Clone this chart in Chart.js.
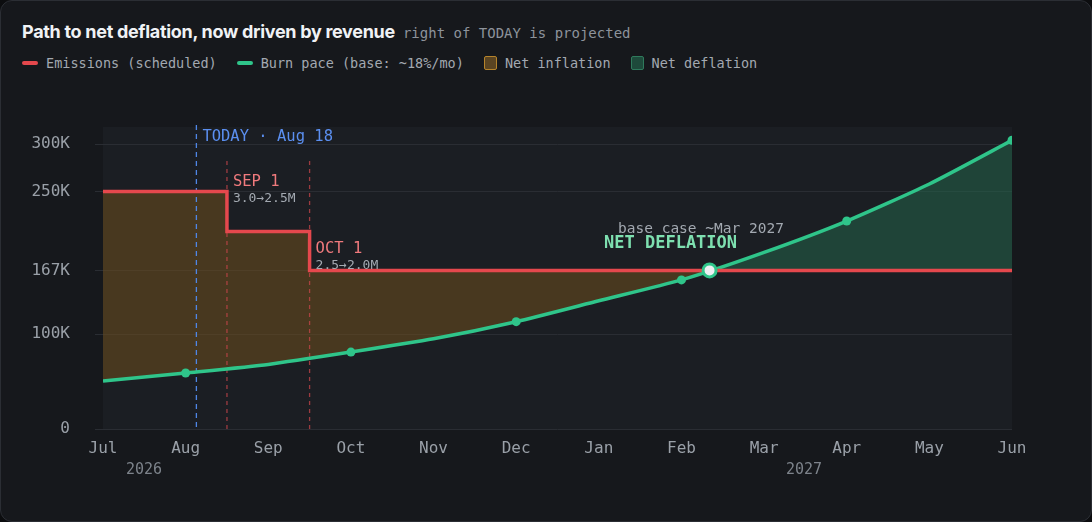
<!DOCTYPE html>
<html>
<head>
<meta charset="utf-8">
<script src="https://cdn.jsdelivr.net/npm/chart.js@4"></script>
<style>
  body { margin:0; background:#0c0d0f; width:1092px; height:522px; overflow:hidden; }
  #card { position:absolute; left:0; top:0; width:1090px; height:520px; background:#16181c;
          border:1px solid #2b2e34; border-radius:12px; }
  #title { position:absolute; left:22px; top:21px; font:bold 18px "Inter","Noto Sans",sans-serif; color:#f0f2f5; letter-spacing:-0.3px; }
  #title span { font:400 14px "DejaVu Sans Mono",monospace; color:#8d939b; margin-left:8px; letter-spacing:0; }
  #legend { position:absolute; left:22px; top:55px; font:13.5px "DejaVu Sans Mono",monospace; color:#a3a9b1; display:flex; gap:20px; }
  #legend div { display:flex; align-items:center; gap:8px; }
  .ln { width:16px; height:4px; border-radius:2px; }
  .bx { width:11px; height:12px; border-radius:2px; }
  canvas { position:absolute; left:0; top:0; }
</style>
</head>
<body>
<div id="card"></div>
<div id="title">Path to net deflation, now driven by revenue<span>right of TODAY is projected</span></div>
<div id="legend">
  <div><span class="ln" style="background:#e5484d"></span>Emissions (scheduled)</div>
  <div><span class="ln" style="background:#2fc58a"></span>Burn pace (base: ~18%/mo)</div>
  <div><span class="bx" style="background:#5a4422;border:1px solid #b5832b"></span>Net inflation</div>
  <div><span class="bx" style="background:#1e4a3b;border:1px solid #2f7a5c"></span>Net deflation</div>
</div>
<canvas id="c" width="1092" height="522"></canvas>
<script>
const months = ["Jul","Aug","Sep","Oct","Nov","Dec","Jan","Feb","Mar","Apr","May","Jun"];
const burn = [50.5, 59, 68, 81, 95, 113, 135, 157, 186, 219, 258, 304]; // K per month
const emissionSteps = [[0, 250], [1.5, 208], [2.5, 167], [11, 167]]; // [month index, K]
const yTicks = [0, 100, 167, 250, 300];
const todayX = 1.13, crossX = 7.34;
const $ = id => document.getElementById(id);

function emissionAt(x) {
  let v = emissionSteps[0][1];
  for (const s of emissionSteps) if (x >= s[0]) v = s[1];
  return v;
}
function burnAt(x) {
  const i = Math.min(Math.floor(x), burn.length - 2);
  return burn[i] + (burn[i + 1] - burn[i]) * (x - i);
}

const emData = [];
emissionSteps.forEach(s => emData.push({x: s[0], y: s[1]}));
const burnData = burn.map((v, i) => ({x: i, y: v}));

const mono = "'DejaVu Sans Mono', monospace";

const decor = {
  id: "decor",
  beforeDatasetsDraw(chart) {
    const {ctx, chartArea: a, scales: {x, y}} = chart;
    ctx.save();
    // fills between curves
    const N = 400;
    for (const mode of ["inf", "def"]) {
      ctx.beginPath();
      const top = [], bot = [];
      for (let k = 0; k <= N; k++) {
        const xv = 11 * k / N, e = emissionAt(xv), b = burnAt(xv);
        if (mode === "inf") { top.push([xv, Math.max(e, b)]); bot.push([xv, b]); }
        else { top.push([xv, b]); bot.push([xv, Math.min(e, b)]); }
      }
      top.forEach((p, k) => k ? ctx.lineTo(x.getPixelForValue(p[0]), y.getPixelForValue(p[1])) : ctx.moveTo(x.getPixelForValue(p[0]), y.getPixelForValue(p[1])));
      bot.reverse().forEach(p => ctx.lineTo(x.getPixelForValue(p[0]), y.getPixelForValue(p[1])));
      ctx.closePath();
      ctx.fillStyle = mode === "inf" ? "rgba(110,78,30,0.55)" : "rgba(35,100,75,0.55)";
      ctx.fill();
    }
    // vertical markers
    ctx.lineWidth = 1.3;
    ctx.setLineDash([5, 4]);
    ctx.strokeStyle = "#4f86e6";
    const tx = x.getPixelForValue(todayX);
    ctx.beginPath(); ctx.moveTo(tx, a.top - 2); ctx.lineTo(tx, a.bottom); ctx.stroke();
    ctx.setLineDash([4, 4]);
    ctx.strokeStyle = "rgba(200,70,75,0.75)";
    [emissionSteps[1][0], emissionSteps[2][0]].forEach(v => {
      const px = x.getPixelForValue(v);
      ctx.beginPath(); ctx.moveTo(px, a.top + 34); ctx.lineTo(px, a.bottom); ctx.stroke();
    });
    ctx.restore();
  },
  beforeDraw(chart) {
    const {ctx, chartArea: a} = chart;
    ctx.fillStyle = "#1b1e23";
    ctx.fillRect(a.left, a.top, a.right - a.left, a.bottom - a.top);
  },
  afterDatasetsDraw(chart) {
    const {ctx, scales: {x, y}} = chart;
    ctx.save();
    ctx.textBaseline = "middle";
    ctx.font = "15.5px " + mono;
    ctx.fillStyle = "#5b8ff0";
    ctx.fillText("TODAY · Aug 18", x.getPixelForValue(todayX) + 6, 137);
    ctx.fillStyle = "#f07a7d";
    ctx.fillText("SEP 1", x.getPixelForValue(1.5) + 6, 182);
    ctx.fillText("OCT 1", x.getPixelForValue(2.5) + 6, 249);
    ctx.font = "13px " + mono;
    ctx.fillStyle = "#a3a9b1";
    ctx.fillText("3.0→2.5M", x.getPixelForValue(1.5) + 6, 199);
    ctx.fillText("2.5→2.0M", x.getPixelForValue(2.5) + 6, 266);
    ctx.font = "14.5px " + mono;
    ctx.fillStyle = "#a3a9b1";
    ctx.fillText("base case ~Mar 2027", 618, 229);
    ctx.font = "bold 17px " + mono;
    ctx.fillStyle = "#7ee0b0";
    ctx.fillText("NET DEFLATION", 604, 244);
    // crossover point
    const cx = x.getPixelForValue(crossX), cy = y.getPixelForValue(emissionAt(crossX));
    ctx.beginPath(); ctx.arc(cx, cy, 6.5, 0, Math.PI * 2);
    ctx.fillStyle = "#eef0f3"; ctx.fill();
    ctx.lineWidth = 3; ctx.strokeStyle = "#2fc58a"; ctx.stroke();
    // years
    ctx.font = "15px " + mono;
    ctx.fillStyle = "#7d838b";
    ctx.textAlign = "center";
    ctx.fillText("2026", 144, 470);
    ctx.fillText("2027", 804, 470);
    ctx.restore();
  }
};

new Chart($("c").getContext("2d"), {
  type: "line",
  data: {
    datasets: [
      { label: "Emissions", data: emData, stepped: "before", borderColor: "#e5484d", borderWidth: 3.5, pointRadius: 0, fill: false },
      { label: "Burn", data: burnData, borderColor: "#2fc58a", borderWidth: 3.5, tension: 0.2,
        pointRadius: burn.map((v, i) => i % 2 === 1 ? 4.5 : 0), pointBackgroundColor: "#2fc58a", pointBorderWidth: 0, fill: false }
    ]
  },
  options: {
    responsive: false, animation: false,
    layout: { padding: { left: 0, top: 127, right: 80, bottom: 0 } },
    plugins: { legend: { display: false }, tooltip: { enabled: false } },
    scales: {
      x: {
        type: "linear", min: 0, max: 11,
        afterFit: s => { s.height = 93; },
        afterBuildTicks: s => { s.ticks = months.map((m, i) => ({value: i})); },
        grid: { display: false }, border: { display: false },
        ticks: { color: "#9aa0a8", font: { family: mono, size: 16 }, padding: 2, autoSkip: false, maxRotation: 0,
                 callback: v => months[v] }
      },
      y: {
        min: 0, max: 318,
        afterFit: s => { s.width = 103; },
        afterBuildTicks: s => { s.ticks = yTicks.map(v => ({value: v})); },
        grid: { color: "#2a2d33", lineWidth: 1 }, border: { display: false },
        ticks: { color: "#9aa0a8", font: { family: mono, size: 16 }, padding: 25,
                 callback: v => v === 0 ? "0" : v + "K" }
      }
    }
  },
  plugins: [decor]
});
</script>
</body>
</html>
